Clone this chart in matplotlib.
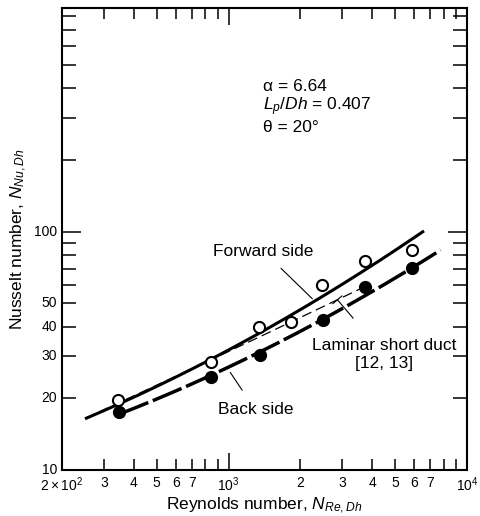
import numpy as np
import matplotlib
matplotlib.use("Agg")
import matplotlib.pyplot as plt
from matplotlib.ticker import LogLocator, FixedLocator, NullFormatter

plt.rcParams['font.family'] = ['Liberation Sans', 'DejaVu Sans']
plt.rcParams['mathtext.fontset'] = 'custom'
plt.rcParams['mathtext.rm'] = 'Liberation Sans'
plt.rcParams['mathtext.it'] = 'Liberation Sans:italic'
plt.rcParams['mathtext.bf'] = 'Liberation Sans:bold'

re_fwd = [345, 845, 1345, 1830, 2475, 3720, 5850]
nu_fwd = [19.6, 28.3, 40.0, 42.0, 59.5, 75.0, 84.0]
re_back = [348, 845, 1350, 2500, 3720, 5900]
nu_back = [17.6, 24.5, 30.5, 42.5, 58.5, 70.5]

# correlation curves
re_fwd_fit = [250, 500, 850, 1300, 2000, 3000, 4500, 6600]
nu_fwd_fit = [16.8, 22.0, 28.5, 36.0, 48.0, 63.0, 80.0, 96.5]
re_lam = [250, 850, 1350, 1830, 2800, 3600]
nu_lam = [16.5, 28.8, 36.5, 42.0, 51.5, 57.5]
re_back_fit = [348, 600, 845, 1350, 2500, 3720, 5900, 7750]
nu_back_fit = [17.6, 21.0, 24.5, 31.0, 43.0, 57.0, 70.0, 82.0]

xtick_vals = [200, 300, 400, 500, 600, 700, 1000, 2000, 3000, 4000, 5000, 6000, 7000, 10000]
xtick_labels = [r'$2\times10^2$', '3', '4', '5', '6', '7', r'$10^3$',
                '2', '3', '4', '5', '6', '7', r'$10^4$']
ytick_vals = [10, 20, 30, 40, 50, 100]
ytick_labels = ['10', '20', '30', '40', '50', '100']


def smooth(xs, ys, n=200):
    lx = np.log10(xs)
    ly = np.log10(ys)
    xx = np.linspace(lx[0], lx[-1], n)
    # quadratic fit in log space gives the gentle curvature of the original
    p = np.polyfit(lx, ly, 2)
    return 10 ** xx, 10 ** np.polyval(p, xx)


fig = plt.figure(figsize=(4.8, 5.16), dpi=100)
ax = fig.add_axes([0.129, 0.089, 0.844, 0.896])
ax.set_xscale('log')
ax.set_yscale('log')
ax.set_xlim(200, 10000)
ax.set_ylim(10, 870)

x, y = smooth(re_fwd_fit, nu_fwd_fit)
ax.plot(x, y, color='black', lw=2.2, solid_capstyle='butt')
x, y = smooth(re_lam, nu_lam)
ax.plot(x, y, color='black', lw=0.9, dashes=(8, 4))
x, y = smooth(re_back_fit, nu_back_fit)
ax.plot(x, y, color='black', lw=2.5, dashes=(9, 1.4))

ax.plot(re_fwd, nu_fwd, 'o', ms=8, mfc='white', mec='black', mew=1.5, zorder=5)
ax.plot(re_back, nu_back, 'o', ms=8.5, mfc='black', mec='black', zorder=5)

# labels with leader lines
ax.annotate('Forward side', xy=(2246, 52.3), xytext=(1400, 82.8),
            ha='center', va='center', fontsize=12.5,
            arrowprops=dict(arrowstyle='-', lw=0.8, color='black',
                            shrinkA=7, shrinkB=0))
ax.annotate('Back side', xy=(1016, 25.7), xytext=(1294, 17.9),
            ha='center', va='center', fontsize=12.5,
            arrowprops=dict(arrowstyle='-', lw=0.8, color='black',
                            shrinkA=8, shrinkB=0))
ax.annotate('Laminar short duct\n[12, 13]', xy=(2860, 51.8), xytext=(4500, 30.5),
            ha='center', va='center', fontsize=12.5, linespacing=1.3,
            arrowprops=dict(arrowstyle='-[, widthB=0.35, lengthB=0', lw=0.8,
                            color='black', shrinkA=16, shrinkB=0))

ax.text(0.496, 0.845, 'α = 6.64\n$L_p$/$Dh$ = 0.407\nθ = 20°',
        transform=ax.transAxes, ha='left', va='top', fontsize=12.5,
        linespacing=1.1)

ax.xaxis.set_major_locator(FixedLocator([1000]))
ax.xaxis.set_minor_locator(FixedLocator([v for v in xtick_vals if v != 1000] + [800, 900, 8000, 9000]))
ax.xaxis.set_major_formatter(NullFormatter())
ax.xaxis.set_minor_formatter(NullFormatter())
for v, lab in zip(xtick_vals, xtick_labels):
    ax.text(v, -0.012, lab, transform=ax.get_xaxis_transform(),
            ha='center', va='top', fontsize=10)

ax.yaxis.set_major_locator(FixedLocator([10, 100]))
ax.yaxis.set_minor_locator(LogLocator(base=10, subs=np.arange(2, 10)))
ax.yaxis.set_major_formatter(NullFormatter())
ax.yaxis.set_minor_formatter(NullFormatter())
for v, lab in zip(ytick_vals, ytick_labels):
    ax.text(-0.012, v, lab, transform=ax.get_yaxis_transform(),
            ha='right', va='center', fontsize=10)

ax.tick_params(which='both', direction='in', top=True, right=True, width=1.1)
ax.tick_params(axis='x', which='major', length=12)
ax.tick_params(axis='x', which='minor', length=8)
ax.tick_params(axis='y', which='major', length=14)
ax.tick_params(axis='y', which='minor', length=10)
for s in ax.spines.values():
    s.set_linewidth(1.5)

ax.set_xlabel(r'Reynolds number, $N_{Re,Dh}$', fontsize=12.5, labelpad=15)
ax.set_ylabel(r'Nusselt number, $N_{Nu,Dh}$', fontsize=12.5, labelpad=20)

fig.savefig('out.png', dpi=100)
